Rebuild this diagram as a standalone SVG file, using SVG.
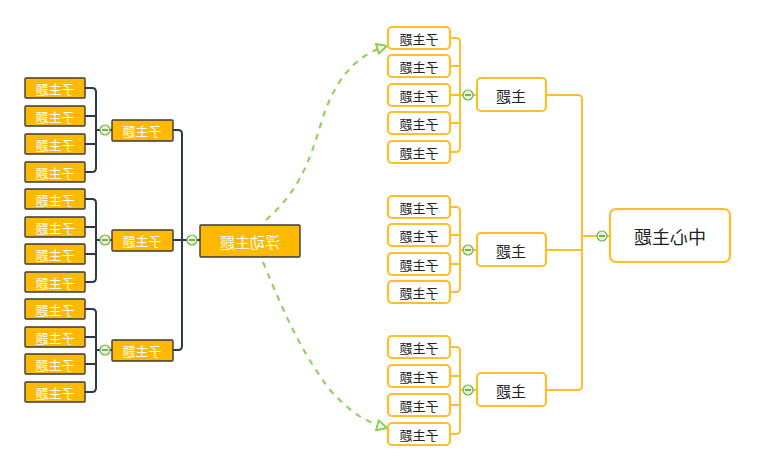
<svg xmlns="http://www.w3.org/2000/svg" width="759" height="460" viewBox="0 0 759 460">
<defs>
<style>
.ob{fill:#fff;stroke:#FFBE2E;stroke-width:2.2}
.gb{fill:#FFB900;stroke:#3a3a3a;stroke-width:1.4}
.oc{fill:none;stroke:#FFBE2E;stroke-width:2;stroke-linejoin:round}
.dc{fill:none;stroke:#2E3A4A;stroke-width:2;stroke-linejoin:round}
.gd{fill:none;stroke:#8CCF55;stroke-width:2;stroke-dasharray:6 6}
.tk{font-family:"Noto Sans CJK SC","Noto Sans",sans-serif;fill:#222;text-anchor:middle;dominant-baseline:central}
.tw{font-family:"Noto Sans CJK SC","Noto Sans",sans-serif;fill:#fff;text-anchor:middle;dominant-baseline:central}
.cc{fill:#E4F5D4;stroke:#6DB33F;stroke-width:1.2}
.cm{stroke:#3F7A1E;stroke-width:1.2}
</style>
<marker id="ah" viewBox="0 0 12 12" refX="11" refY="6" markerWidth="12" markerHeight="12" markerUnits="userSpaceOnUse" orient="auto">
<path d="M1,1 L11,6 L1,11 Z" fill="#fff" stroke="#8CCF55" stroke-width="2"/>
</marker>
<g id="col"><circle r="5" class="cc"/><line x1="-3" y1="0" x2="3" y2="0" class="cm"/></g>
</defs>
<g id="connectors">
<!-- right tree -->
<path class="oc" d="M610,236 H582 M546,95 H578 Q582,95 582,99 V386 Q582,390 578,390 H546 M546,250 H582"/>
<path class="oc" d="M477,95 H460 M450,38 H456 Q460,38 460,42 V148 Q460,152 456,152 H450 M450,66 H460 M450,95 H460 M450,123 H460"/>
<path class="oc" d="M477,250 H460 M450,207 H456 Q460,207 460,211 V288 Q460,292 456,292 H450 M450,235 H460 M450,264 H460"/>
<path class="oc" d="M477,390 H460 M450,347 H456 Q460,347 460,351 V430 Q460,434 456,434 H450 M450,376 H460 M450,405 H460"/>
<!-- left tree -->
<path class="dc" d="M200,240 H182 M173,130 H178 Q182,130 182,134 V346 Q182,350 178,350 H173 M173,240 H182"/>
<path class="dc" d="M112,130 H96 M85,88 H92 Q96,88 96,92 V168 Q96,172 92,172 H85 M85,116 H96 M85,144 H96"/>
<path class="dc" d="M112,240 H96 M85,199 H92 Q96,199 96,203 V278 Q96,282 92,282 H85 M85,227 H96 M85,254 H96"/>
<path class="dc" d="M112,350 H96 M85,309 H92 Q96,309 96,313 V388 Q96,392 92,392 H85 M85,337 H96 M85,364 H96"/>
<!-- floating relations -->
<path class="gd" marker-end="url(#ah)" d="M266,220 C300,190 310,160 322,120 C335,80 355,55 387,46"/>
<path class="gd" marker-end="url(#ah)" d="M263,262 C285,315 300,350 330,390 C350,412 365,422 387,428"/>
</g>
<g id="central">
<rect x="610" y="209" width="120" height="53" rx="6" class="ob"/>
<text class="tk" font-size="18" transform="translate(670,236) scale(-1,1)">中心主题</text>
<use href="#col" x="602" y="236"/>
</g>
<g id="main1"><rect x="477" y="78" width="69" height="33" rx="4" class="ob"/><text class="tk" font-size="15" transform="translate(511,95) scale(-1,1)">主题</text><use href="#col" x="468" y="95"/></g>
<g id="main2"><rect x="477" y="233" width="69" height="33" rx="4" class="ob"/><text class="tk" font-size="15" transform="translate(511,250) scale(-1,1)">主题</text><use href="#col" x="468" y="250"/></g>
<g id="main3"><rect x="477" y="373" width="69" height="33" rx="4" class="ob"/><text class="tk" font-size="15" transform="translate(511,390) scale(-1,1)">主题</text><use href="#col" x="468" y="390"/></g>
<g id="rs1"><rect x="388" y="27" width="62" height="22" rx="4" class="ob"/><text class="tk" font-size="13" transform="translate(419,38) scale(-1,1)">子主题</text></g>
<g id="rs2"><rect x="388" y="55" width="62" height="22" rx="4" class="ob"/><text class="tk" font-size="13" transform="translate(419,66) scale(-1,1)">子主题</text></g>
<g id="rs3"><rect x="388" y="84" width="62" height="22" rx="4" class="ob"/><text class="tk" font-size="13" transform="translate(419,95) scale(-1,1)">子主题</text></g>
<g id="rs4"><rect x="388" y="112" width="62" height="22" rx="4" class="ob"/><text class="tk" font-size="13" transform="translate(419,123) scale(-1,1)">子主题</text></g>
<g id="rs5"><rect x="388" y="141" width="62" height="22" rx="4" class="ob"/><text class="tk" font-size="13" transform="translate(419,152) scale(-1,1)">子主题</text></g>
<g id="rs6"><rect x="388" y="196" width="62" height="22" rx="4" class="ob"/><text class="tk" font-size="13" transform="translate(419,207) scale(-1,1)">子主题</text></g>
<g id="rs7"><rect x="388" y="224" width="62" height="22" rx="4" class="ob"/><text class="tk" font-size="13" transform="translate(419,235) scale(-1,1)">子主题</text></g>
<g id="rs8"><rect x="388" y="253" width="62" height="22" rx="4" class="ob"/><text class="tk" font-size="13" transform="translate(419,264) scale(-1,1)">子主题</text></g>
<g id="rs9"><rect x="388" y="281" width="62" height="22" rx="4" class="ob"/><text class="tk" font-size="13" transform="translate(419,292) scale(-1,1)">子主题</text></g>
<g id="rs10"><rect x="388" y="336" width="62" height="22" rx="4" class="ob"/><text class="tk" font-size="13" transform="translate(419,347) scale(-1,1)">子主题</text></g>
<g id="rs11"><rect x="388" y="365" width="62" height="22" rx="4" class="ob"/><text class="tk" font-size="13" transform="translate(419,376) scale(-1,1)">子主题</text></g>
<g id="rs12"><rect x="388" y="394" width="62" height="22" rx="4" class="ob"/><text class="tk" font-size="13" transform="translate(419,405) scale(-1,1)">子主题</text></g>
<g id="rs13"><rect x="388" y="423" width="62" height="22" rx="4" class="ob"/><text class="tk" font-size="13" transform="translate(419,434) scale(-1,1)">子主题</text></g>
<g id="floating"><rect x="200" y="225" width="100" height="32" rx="1" class="gb"/><text class="tw" font-size="15" transform="translate(250,241) scale(-1,1)">浮动主题</text><use href="#col" x="192" y="240"/></g>
<g id="ls1"><rect x="112" y="120" width="61" height="21" rx="1" class="gb"/><text class="tw" font-size="13" transform="translate(142,130) scale(-1,1)">子主题</text><use href="#col" x="105" y="130"/></g>
<g id="ls2"><rect x="112" y="230" width="61" height="21" rx="1" class="gb"/><text class="tw" font-size="13" transform="translate(142,240) scale(-1,1)">子主题</text><use href="#col" x="105" y="240"/></g>
<g id="ls3"><rect x="112" y="340" width="61" height="21" rx="1" class="gb"/><text class="tw" font-size="13" transform="translate(142,350) scale(-1,1)">子主题</text><use href="#col" x="105" y="350"/></g>
<g id="ll1"><rect x="25" y="78" width="60" height="20" rx="1" class="gb"/><text class="tw" font-size="13" transform="translate(55,88) scale(-1,1)">子主题</text></g>
<g id="ll2"><rect x="25" y="106" width="60" height="20" rx="1" class="gb"/><text class="tw" font-size="13" transform="translate(55,116) scale(-1,1)">子主题</text></g>
<g id="ll3"><rect x="25" y="134" width="60" height="20" rx="1" class="gb"/><text class="tw" font-size="13" transform="translate(55,144) scale(-1,1)">子主题</text></g>
<g id="ll4"><rect x="25" y="162" width="60" height="20" rx="1" class="gb"/><text class="tw" font-size="13" transform="translate(55,172) scale(-1,1)">子主题</text></g>
<g id="ll5"><rect x="25" y="189" width="60" height="20" rx="1" class="gb"/><text class="tw" font-size="13" transform="translate(55,199) scale(-1,1)">子主题</text></g>
<g id="ll6"><rect x="25" y="217" width="60" height="20" rx="1" class="gb"/><text class="tw" font-size="13" transform="translate(55,227) scale(-1,1)">子主题</text></g>
<g id="ll7"><rect x="25" y="244" width="60" height="20" rx="1" class="gb"/><text class="tw" font-size="13" transform="translate(55,254) scale(-1,1)">子主题</text></g>
<g id="ll8"><rect x="25" y="272" width="60" height="20" rx="1" class="gb"/><text class="tw" font-size="13" transform="translate(55,282) scale(-1,1)">子主题</text></g>
<g id="ll9"><rect x="25" y="299" width="60" height="20" rx="1" class="gb"/><text class="tw" font-size="13" transform="translate(55,309) scale(-1,1)">子主题</text></g>
<g id="ll10"><rect x="25" y="327" width="60" height="20" rx="1" class="gb"/><text class="tw" font-size="13" transform="translate(55,337) scale(-1,1)">子主题</text></g>
<g id="ll11"><rect x="25" y="354" width="60" height="20" rx="1" class="gb"/><text class="tw" font-size="13" transform="translate(55,364) scale(-1,1)">子主题</text></g>
<g id="ll12"><rect x="25" y="382" width="60" height="20" rx="1" class="gb"/><text class="tw" font-size="13" transform="translate(55,392) scale(-1,1)">子主题</text></g>
</svg>
